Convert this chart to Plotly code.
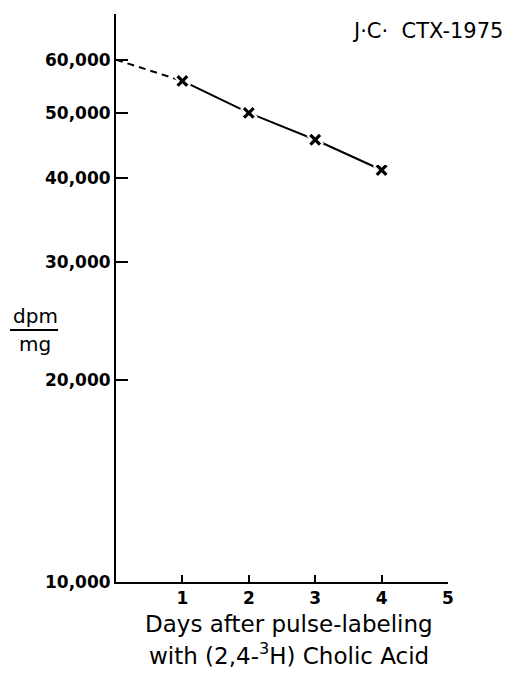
import plotly.graph_objects as go
import math

# Data
days = [1, 2, 3, 4]
dpm_per_mg = [55800, 50000, 45600, 41100]
extrap_days = [0, 1]
extrap_vals = [60000, 55800]

y_tickvals = [10000, 20000, 30000, 40000, 50000, 60000]
y_ticktext = ["10,000", "20,000", "30,000", "40,000", "50,000", "60,000"]
x_tickvals = [1, 2, 3, 4, 5]
x_ticktext = ["1", "2", "3", "4", "5"]

OFF = 8  # browser body margin

fig = go.Figure()
fig.add_trace(go.Scatter(x=extrap_days, y=extrap_vals, mode="lines",
                         line=dict(color="black", width=2, dash="7px,5px"),
                         showlegend=False, hoverinfo="skip"))
fig.add_trace(go.Scatter(x=days, y=dpm_per_mg, mode="lines",
                         line=dict(color="black", width=2),
                         showlegend=False, hoverinfo="skip"))
fig.add_trace(go.Scatter(x=days, y=dpm_per_mg, mode="markers",
                         marker=dict(symbol="x", size=13, color="black",
                                     line=dict(color="white", width=2)),
                         showlegend=False))

font_ticks = dict(family="DejaVu Sans", size=17, color="black", weight="bold")

fig.update_layout(
    width=519 - OFF, height=673 - OFF,
    margin=dict(l=116 - OFF, r=71, t=14 - OFF, b=91),
    plot_bgcolor="white", paper_bgcolor="white",
    xaxis=dict(range=[0, 5], tickvals=x_tickvals, ticktext=x_ticktext,
               ticks="inside", ticklen=7, tickwidth=2, tickcolor="black",
               showline=True, linecolor="black", linewidth=2,
               showgrid=False, zeroline=False, tickfont=font_ticks),
    yaxis=dict(type="log", range=[4, math.log10(70200)],
               tickvals=y_tickvals, ticktext=y_ticktext,
               ticks="inside", ticklen=12, tickwidth=2, tickcolor="black",
               showline=True, linecolor="black", linewidth=2,
               showgrid=False, zeroline=False, tickfont=font_ticks),
)

title_font = dict(family="DejaVu Sans", size=23, color="black")
label_font = dict(family="DejaVu Sans", size=20, color="black")

def px_to_paper(x, y):
    return (x - 116) / (448 - 116), (582 - y) / (582 - 14)

for txt, (x, y), fnt in [
    ("Days after pulse-labeling", (289, 624), title_font),
    ("with (2,4-<sup>3</sup>H) Cholic Acid", (289, 654), title_font),
    ("dpm", (35, 316), label_font),
    ("mg", (35, 344), label_font),
    ("J·C·  CTX-1975", (427, 31), dict(family="DejaVu Sans", size=21, color="black")),
]:
    px, py = px_to_paper(x, y)
    fig.add_annotation(text=txt, x=px, y=py, xref="paper", yref="paper",
                       showarrow=False, font=fnt, xanchor="center", yanchor="middle")

x0, y0 = px_to_paper(10, 330)
x1, _ = px_to_paper(58, 330)
fig.add_shape(type="line", xref="paper", yref="paper", x0=x0, x1=x1, y0=y0, y1=y0,
              line=dict(color="black", width=2))

fig.write_html("out.html")
